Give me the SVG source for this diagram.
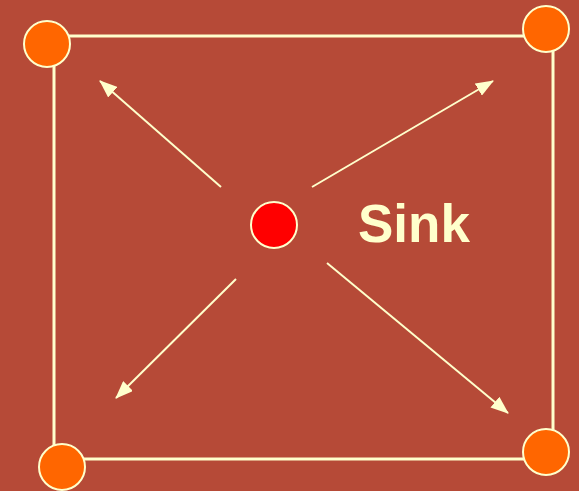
<svg xmlns="http://www.w3.org/2000/svg" width="579" height="491" viewBox="0 0 579 491">
<defs>
<marker id="ah" markerWidth="18" markerHeight="14" refX="17" refY="7" orient="auto" markerUnits="userSpaceOnUse">
<path d="M0,0 L18,7 L0,14 Z" fill="#FFFFCC"/>
</marker>
</defs>
<style>
.edge{stroke:#FFFFCC;stroke-width:3;fill:none}
.arr{stroke:#FFFFCC;stroke-width:2;fill:none;marker-end:url(#ah)}
.corner{fill:#FF6600;stroke:#FFFFCC;stroke-width:2}
.sink{fill:#FF0000;stroke:#FFFFCC;stroke-width:2}
.lbl{font-family:"Liberation Sans",Arial,sans-serif;font-weight:bold;font-size:53px;fill:#FFFFCC}
</style>
<rect width="579" height="491" fill="#B64A37"/>
<g id="connectors">
<rect class="edge" x="54" y="36" width="499" height="423"/>
<line class="arr" x1="221" y1="187" x2="100" y2="81"/>
<line class="arr" x1="312" y1="187" x2="493" y2="81"/>
<line class="arr" x1="236" y1="279" x2="116" y2="398"/>
<line class="arr" x1="327" y1="263" x2="508" y2="413"/>
</g>
<g id="node-tl"><circle class="corner" cx="47" cy="44" r="23"/></g>
<g id="node-tr"><circle class="corner" cx="546" cy="29" r="23"/></g>
<g id="node-bl"><circle class="corner" cx="62" cy="467" r="23"/></g>
<g id="node-br"><circle class="corner" cx="546" cy="452" r="23"/></g>
<g id="node-sink"><circle class="sink" cx="274" cy="225" r="23"/>
<text class="lbl" x="358" y="242">Sink</text></g>
</svg>
